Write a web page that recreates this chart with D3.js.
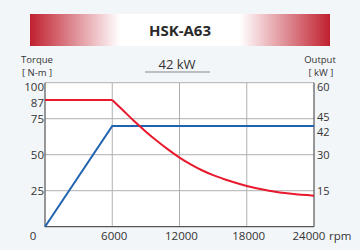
<!DOCTYPE html>
<html>
<head>
<meta charset="utf-8">
<script src="https://cdn.jsdelivr.net/npm/d3@7"></script>
<style>
  body { margin: 0; background: #f3f6f9; }
  text { font-family: "Open Sans", "Noto Sans", sans-serif; fill: #333; }
</style>
</head>
<body>
<div class="canvas"></div>
<script>
// chart values
const title = 'HSK-A63';
const powerLabel = '42 kW';
const rpmTicks = [6000, 12000, 18000, 24000];
const torqueTicks = [25, 50, 75, 87, 100];
const outputTicks = [15, 30, 42, 45, 60];
const gridTorque = [25, 50, 75];
// output line (kW)
const outputRpm = [0, 6000, 24000];
const outputKw = [0, 42, 42];
// torque line (N-m)
const torqueFlatRpm = [0, 6000];
const torqueFlatVal = [88, 88];
const torqueRpm = [6000, 7000, 8000, 9000, 10000, 11000, 12000, 13000, 14000, 15000, 16000, 17000, 18000, 20000, 22000, 24000];
const torqueVal = [88, 80.5, 73, 66, 59.5, 53.5, 48, 43.3, 39.2, 35.8, 33, 30.5, 28.3, 25, 22.8, 21.5];

const dims = { width: 360, height: 250 };
const plot = { left: 45, right: 314, top: 82.7, bottom: 226.7 };

const svg = d3.select('.canvas')
  .append('svg')
  .attr('width', dims.width)
  .attr('height', dims.height);

// header gradient band
const defs = svg.append('defs');
const grad = defs.append('linearGradient').attr('id', 'hdr');
[[0, '#c0202f'], [0.3, '#ffffff'], [0.7, '#ffffff'], [1, '#c0202f']].forEach(s => {
  grad.append('stop').attr('offset', s[0]).attr('stop-color', s[1]);
});
svg.append('rect')
  .attr('x', 30).attr('y', 14).attr('width', 300).attr('height', 32)
  .attr('fill', 'url(#hdr)');
svg.append('text')
  .attr('x', 180).attr('y', 35.5)
  .attr('text-anchor', 'middle')
  .attr('font-size', 15).attr('font-weight', 'bold')
  .style('fill', '#2a2a2a')
  .text(title);

// scales
const x = d3.scaleLinear().domain([0, 24000]).range([plot.left, plot.right]);
const yT = d3.scaleLinear().domain([0, 100]).range([plot.bottom, plot.top]);
const yP = d3.scaleLinear().domain([0, 60]).range([plot.bottom, plot.top]);

// plot background
svg.append('rect')
  .attr('x', plot.left).attr('y', plot.top)
  .attr('width', plot.right - plot.left).attr('height', plot.bottom - plot.top)
  .attr('fill', '#fff');

// grid
svg.append('g').selectAll('line').data(gridTorque).join('line')
  .attr('x1', plot.left).attr('x2', plot.right)
  .attr('y1', d => yT(d)).attr('y2', d => yT(d))
  .attr('stroke', '#b0b0b0').attr('stroke-width', 1);
svg.append('g').selectAll('line').data(rpmTicks.slice(0, 3)).join('line')
  .attr('x1', d => x(d)).attr('x2', d => x(d))
  .attr('y1', plot.top).attr('y2', plot.bottom)
  .attr('stroke', '#b0b0b0').attr('stroke-width', 1);

// frame
svg.append('line').attr('x1', plot.left).attr('x2', plot.right)
  .attr('y1', plot.top).attr('y2', plot.top).attr('stroke', '#b0b0b0');
svg.append('line').attr('x1', plot.left).attr('x2', plot.left)
  .attr('y1', plot.top).attr('y2', plot.bottom).attr('stroke', '#555').attr('stroke-width', 1.2);
svg.append('line').attr('x1', plot.right).attr('x2', plot.right)
  .attr('y1', plot.top).attr('y2', plot.bottom).attr('stroke', '#555').attr('stroke-width', 1.2);
svg.append('line').attr('x1', plot.left).attr('x2', plot.right)
  .attr('y1', plot.bottom).attr('y2', plot.bottom).attr('stroke', '#555').attr('stroke-width', 1.2);

// lines
const lineP = d3.line().x(d => x(d[0])).y(d => yP(d[1]));
svg.append('path')
  .attr('d', lineP(d3.zip(outputRpm, outputKw)))
  .attr('fill', 'none').attr('stroke', '#1f62b0').attr('stroke-width', 2);

const lineT = d3.line().x(d => x(d[0])).y(d => yT(d[1]));
svg.append('path')
  .attr('d', lineT(d3.zip(torqueFlatRpm, torqueFlatVal)))
  .attr('fill', 'none').attr('stroke', '#e8192c').attr('stroke-width', 2);
svg.append('path')
  .attr('d', lineT.curve(d3.curveMonotoneX)(d3.zip(torqueRpm, torqueVal)))
  .attr('fill', 'none').attr('stroke', '#e8192c').attr('stroke-width', 2);

// left axis labels
svg.append('g').selectAll('text').data(torqueTicks).join('text')
  .attr('x', 44).attr('y', d => yT(d) + (d === 100 ? 8 : d === 87 ? 6 : 4))
  .attr('text-anchor', 'end').attr('font-size', 11.5)
  .text(d => d);
// right axis labels
svg.append('g').selectAll('text').data(outputTicks).join('text')
  .attr('x', 317).attr('y', d => yP(d) + (d === 60 ? 8 : d === 45 ? 2.5 : d === 42 ? 10 : 4))
  .attr('font-size', 11)
  .text(d => d);
// bottom labels
svg.append('text').attr('x', 33).attr('y', 240)
  .attr('text-anchor', 'middle').attr('font-size', 11.5).text('0');
svg.append('g').selectAll('text').data(rpmTicks).join('text')
  .attr('x', d => d === 24000 ? x(d) - 5 : x(d) + 2).attr('y', 240)
  .attr('text-anchor', 'middle').attr('font-size', 11.5)
  .text(d => d);
svg.append('text').attr('x', 329).attr('y', 240)
  .attr('font-size', 11.5).text('rpm');

// axis titles
svg.append('text').attr('x', 37).attr('y', 63).attr('text-anchor', 'middle')
  .attr('font-size', 9.5).text('Torque');
svg.append('text').attr('x', 37).attr('y', 76).attr('text-anchor', 'middle')
  .attr('font-size', 9.5).text('[ N-m ]');
svg.append('text').attr('x', 320).attr('y', 63).attr('text-anchor', 'middle')
  .attr('font-size', 9.5).text('Output');
svg.append('text').attr('x', 321).attr('y', 76).attr('text-anchor', 'middle')
  .attr('font-size', 9.5).text('[ kW ]');

// power label
svg.append('text').attr('x', 177).attr('y', 68.5).attr('text-anchor', 'middle')
  .attr('font-size', 13).text(powerLabel);
svg.append('line').attr('x1', 145).attr('x2', 210).attr('y1', 72).attr('y2', 72)
  .attr('stroke', '#aaa').attr('stroke-width', 1.5);
</script>
</body>
</html>
